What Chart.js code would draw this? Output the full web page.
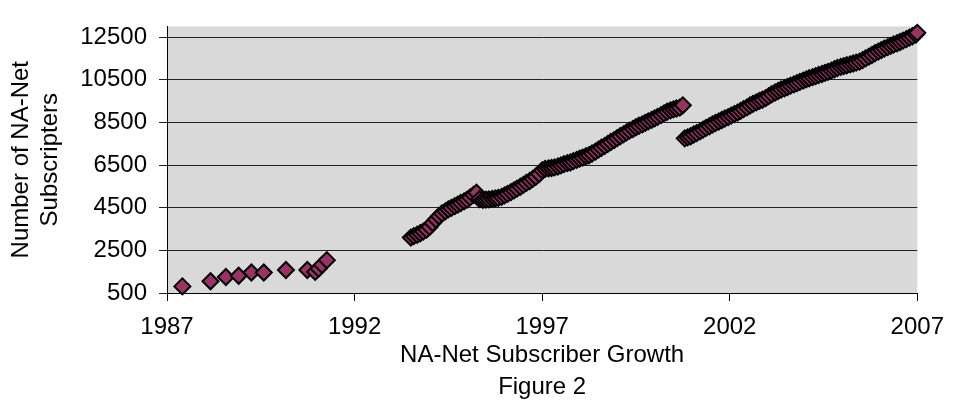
<!DOCTYPE html>
<html>
<head>
<meta charset="utf-8">
<script src="https://cdn.jsdelivr.net/npm/chart.js@4"></script>
<style>
  html, body { margin: 0; padding: 0; background: #fff; }
  #growthChart { display: block; }
</style>
</head>
<body>
<canvas id="growthChart" width="956" height="405"></canvas>
<script>
// axis ticks
const yearTicks = [1987, 1992, 1997, 2002, 2007];
const countTicks = [500, 2500, 4500, 6500, 8500, 10500, 12500];

// first list, 1987-1991
const earlyYears = [1987.41, 1988.16, 1988.57, 1988.91, 1989.25, 1989.58, 1990.17, 1990.74, 1990.95, 1991.04, 1991.13, 1991.26];
const earlyCounts = [810, 1050, 1250, 1310, 1460, 1460, 1580, 1580, 1490, 1640, 1820, 2040];

// 1993-2000
const midYears = [
  1993.50, 1993.58, 1993.67, 1993.75, 1993.83, 1993.92, 1994.00, 1994.08, 1994.17, 1994.25, 1994.33, 1994.42,
  1994.50, 1994.58, 1994.67, 1994.75, 1994.83, 1994.92, 1995.00, 1995.08, 1995.17, 1995.25, 1995.33, 1995.42,
  1995.50, 1995.58, 1995.67, 1995.75, 1995.83, 1995.92, 1996.00, 1996.08, 1996.17, 1996.25, 1996.33, 1996.42,
  1996.50, 1996.58, 1996.67, 1996.75, 1996.83, 1996.92, 1997.00, 1997.08, 1997.17, 1997.25, 1997.33, 1997.42,
  1997.50, 1997.58, 1997.67, 1997.75, 1997.83, 1997.92, 1998.00, 1998.08, 1998.17, 1998.25, 1998.33, 1998.42,
  1998.50, 1998.58, 1998.67, 1998.75, 1998.83, 1998.92, 1999.00, 1999.08, 1999.17, 1999.25, 1999.33, 1999.42,
  1999.50, 1999.58, 1999.67, 1999.75, 1999.83, 1999.92, 2000.00, 2000.08, 2000.17, 2000.25, 2000.33, 2000.42,
  2000.50, 2000.58, 2000.67, 2000.75
];
const midCounts = [
  3100, 3170, 3230, 3300, 3380, 3470, 3600, 3780, 3950, 4100, 4230, 4330,
  4420, 4490, 4570, 4640, 4720, 4800, 4880, 4980, 5100, 5200, 4900, 4870,
  4880, 4890, 4910, 4930, 4960, 5010, 5080, 5150, 5230, 5310, 5390, 5480,
  5570, 5660, 5750, 5850, 5950, 6080, 6250, 6320, 6340, 6360, 6390, 6430,
  6480, 6540, 6590, 6620, 6680, 6740, 6800, 6850, 6910, 6960, 7040, 7130,
  7220, 7310, 7400, 7490, 7580, 7670, 7760, 7850, 7940, 8030, 8110, 8190,
  8270, 8340, 8410, 8480, 8550, 8620, 8690, 8760, 8840, 8920, 9000, 9060,
  9110, 9150, 9190, 9300
];

// 2000-2007
const lateYears = [
  2000.80, 2000.88, 2000.96, 2001.04, 2001.12, 2001.21, 2001.29, 2001.37, 2001.46, 2001.54, 2001.62, 2001.71,
  2001.79, 2001.87, 2001.96, 2002.04, 2002.12, 2002.21, 2002.29, 2002.37, 2002.46, 2002.54, 2002.62, 2002.71,
  2002.79, 2002.87, 2002.96, 2003.04, 2003.12, 2003.21, 2003.29, 2003.37, 2003.46, 2003.54, 2003.62, 2003.71,
  2003.79, 2003.87, 2003.96, 2004.04, 2004.12, 2004.21, 2004.29, 2004.37, 2004.46, 2004.54, 2004.62, 2004.71,
  2004.79, 2004.87, 2004.96, 2005.04, 2005.12, 2005.21, 2005.29, 2005.37, 2005.46, 2005.54, 2005.62, 2005.71,
  2005.79, 2005.87, 2005.96, 2006.04, 2006.12, 2006.21, 2006.29, 2006.37, 2006.46, 2006.54, 2006.62, 2006.71,
  2006.79, 2006.87, 2006.96, 2007.00
];
const lateCounts = [
  7750, 7800, 7850, 7930, 8000, 8080, 8160, 8240, 8320, 8400, 8470, 8540,
  8610, 8680, 8750, 8820, 8890, 8960, 9040, 9120, 9200, 9290, 9370, 9440,
  9510, 9560, 9640, 9730, 9820, 9900, 9970, 10040, 10100, 10160, 10220, 10280,
  10340, 10400, 10460, 10520, 10570, 10620, 10670, 10720, 10770, 10820, 10870, 10930,
  10990, 11050, 11100, 11140, 11180, 11220, 11260, 11300, 11350, 11420, 11500, 11580,
  11660, 11740, 11820, 11890, 11960, 12030, 12090, 12150, 12210, 12270, 12330, 12400,
  12470, 12540, 12620, 12700
];

const allYears = earlyYears.concat(midYears, lateYears);
const allCounts = earlyCounts.concat(midCounts, lateCounts);
const points = allYears.map((yr, i) => ({ x: yr, y: allCounts[i] }));

const font = { family: "'Liberation Sans', Arial, sans-serif", size: 24 };

// gray plot area like the excel chart
const plotBackground = {
  id: 'plotBackground',
  beforeDraw(chart) {
    const { ctx, chartArea } = chart;
    ctx.save();
    ctx.fillStyle = '#d9d9d9';
    ctx.fillRect(chartArea.left, chartArea.top, chartArea.right - chartArea.left, chartArea.bottom - chartArea.top);
    ctx.restore();
  }
};

new Chart(document.getElementById('growthChart').getContext('2d'), {
  type: 'scatter',
  data: {
    datasets: [{
      label: 'Subscribers',
      data: points,
      pointStyle: 'rectRot',
      pointRadius: 8,
      pointHoverRadius: 8,
      pointBackgroundColor: '#993366',
      pointBorderColor: '#000000',
      pointBorderWidth: 2,
      showLine: false,
      clip: false
    }]
  },
  options: {
    responsive: false,
    animation: false,
    devicePixelRatio: 1,
    layout: { padding: { top: 12, right: 31, left: 0, bottom: 0 } },
    plugins: {
      legend: { display: false },
      tooltip: { enabled: false }
    },
    scales: {
      x: {
        type: 'linear',
        min: 1987,
        max: 2007,
        afterBuildTicks: scale => { scale.ticks = yearTicks.map(v => ({ value: v })); },
        afterFit: scale => { scale.height = 112; },
        ticks: {
          autoSkip: false,
          maxRotation: 0,
          padding: 12,
          color: '#000',
          font: font,
          callback: v => String(v)
        },
        grid: { drawOnChartArea: false, drawTicks: true, tickLength: 8, color: '#000' },
        border: { display: true, color: '#000', width: 1 },
        title: {
          display: true,
          text: ['NA-Net Subscriber Growth', 'Figure 2'],
          color: '#000',
          font: { family: font.family, size: 24, lineHeight: 1.35 },
          padding: { top: 0, bottom: 1 }
        }
      },
      y: {
        type: 'linear',
        min: 500,
        max: 13000,
        afterBuildTicks: scale => { scale.ticks = countTicks.map(v => ({ value: v })); },
        afterFit: scale => { scale.width = 167; },
        ticks: {
          autoSkip: false,
          padding: 12,
          color: '#000',
          font: font,
          callback: v => String(v)
        },
        grid: { color: '#222', lineWidth: 1, tickLength: 8 },
        border: { display: true, color: '#000', width: 1 },
        title: {
          display: true,
          text: ['Number of NA-Net', 'Subscripters'],
          color: '#000',
          font: { family: font.family, size: 24, lineHeight: 1.2 },
          padding: { top: 7, bottom: 0 }
        }
      }
    }
  },
  plugins: [plotBackground]
});
</script>
</body>
</html>
